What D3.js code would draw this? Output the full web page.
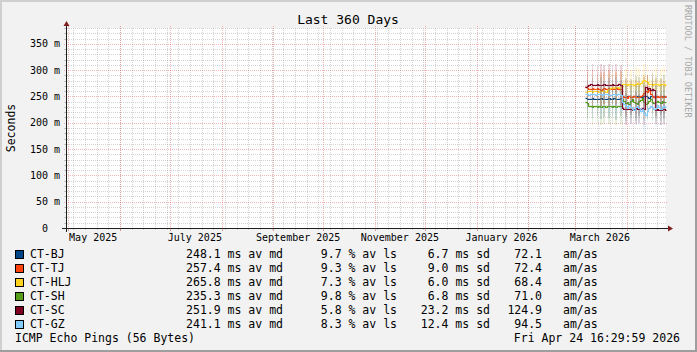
<!DOCTYPE html>
<html>
<head>
<meta charset="utf-8">
<script src="https://cdn.jsdelivr.net/npm/d3@7"></script>
<style>
html, body { margin: 0; padding: 0; background: #f2f2f2; }
svg { display: block; }
text { font-family: "DejaVu Sans Mono", monospace; white-space: pre; }
</style>
</head>
<body>
<div id="chart"></div>
<script>
// hosts and colours
var hosts = ["CT-BJ", "CT-TJ", "CT-HLJ", "CT-SH", "CT-SC", "CT-GZ"];
var colors = ["#004586", "#ff420e", "#ffd320", "#579d1c", "#7e0021", "#83caff"];

// legend numbers
var avMedian = [248.1, 257.4, 265.8, 235.3, 251.9, 241.1];
var avLoss = [9.7, 9.3, 7.3, 9.8, 5.8, 8.3];
var sdMedian = [6.7, 9.0, 6.0, 6.8, 23.2, 12.4];
var amAs = [72.1, 72.4, 68.4, 71.0, 124.9, 94.5];

// daily medians (ms), first value is 2026-03-07
var firstDay = new Date(2026, 2, 7);
var medBJ  = [247,246,245,246,247,246,245,245,246,247,246,245,246,246,247,245,246,247,246,245,246,247,
              250,249,248,250,251,249,248,250,249,251,250,248,249,251,250,249,247,250,251,249,250,251,249,250,248,250,249];
var medTJ  = [268,266,265,264,266,265,264,266,265,263,265,266,264,265,266,265,264,265,266,265,264,265,
              250,248,249,247,250,249,248,250,249,248,249,250,252,256,260,258,262,255,250,249,248,250,249,251,248,249,250];
var medHLJ = [259,260,261,260,259,260,261,260,259,260,261,260,259,262,264,266,267,266,268,267,266,268,
              273,274,273,272,274,273,274,272,273,275,274,276,280,281,279,277,274,273,272,274,273,274,272,273,274,273,272];
var medSH  = [239,237,232,231,230,231,232,230,231,230,232,231,230,231,232,231,230,231,230,231,232,231,
              245,242,238,240,236,242,245,240,238,236,241,244,247,240,236,238,242,245,240,237,239,242,240,238,241,240,239];
var medSC  = [268,270,272,273,272,271,272,273,272,271,272,273,272,272,271,272,273,272,271,272,273,272,
              228,227,226,228,227,226,225,227,228,226,227,226,228,226,268,264,266,262,265,263,225,226,224,225,227,226,225];
var medGZ  = [255,254,253,254,255,254,253,254,255,254,253,254,255,254,253,252,254,255,253,254,255,253,
              240,236,232,228,234,230,226,224,230,232,228,222,226,218,214,222,228,232,230,226,228,234,230,226,229,231,230];

// daily standard deviation (ms)
var sdBJ  = [5,70,5,6,75,5,4,65,5,80,6,70,5,4,75,5,70,6,80,5,4,70,
             5,6,75,5,5,70,6,5,80,5,75,6,5,70,4,80,5,6,70,5,75,6,5,70,5,80,5];
var sdTJ  = [6,60,5,6,70,6,5,55,6,65,6,60,5,6,70,6,55,6,60,5,6,65,
             6,7,70,6,6,60,7,6,65,6,60,7,6,70,6,65,7,6,60,6,70,7,6,65,6,60,6];
var sdHLJ = [5,55,5,5,60,5,5,50,5,60,5,55,5,5,60,5,55,5,60,5,5,55,
             10,15,60,18,20,60,16,22,65,20,60,18,24,60,20,65,22,18,60,20,65,18,22,60,20,65,18];
var sdSH  = [6,65,6,5,70,6,5,60,6,70,5,65,6,5,70,6,65,5,70,6,5,65,
             6,7,70,6,6,65,7,6,70,6,65,7,6,70,6,65,7,6,70,6,65,7,6,70,6,65,6];
var sdSC  = [4,75,4,4,80,4,4,70,4,80,4,75,4,4,80,4,75,4,80,4,4,75,
             5,5,60,5,5,55,5,5,60,5,55,5,5,60,6,55,6,5,60,5,55,5,5,60,5,55,5];
var sdGZ  = [5,60,5,5,65,5,5,55,5,65,5,60,5,5,65,5,60,5,65,5,5,60,
             8,8,70,8,9,65,8,9,70,8,65,9,8,75,9,70,8,9,65,8,70,9,8,65,8,70,8];

var medians = [medBJ, medTJ, medHLJ, medSH, medSC, medGZ];
var sdevs = [sdBJ, sdTJ, sdHLJ, sdSH, sdSC, sdGZ];

// axis ticks
var yTickValues = [0, 0.05, 0.1, 0.15, 0.2, 0.25, 0.3, 0.35];
var yTickLabels = ["0  ", "50 m", "100 m", "150 m", "200 m", "250 m", "300 m", "350 m"];
var monthLabels = ["May 2025", "July 2025", "September 2025", "November 2025", "January 2026", "March 2026"];
var monthLabelDates = [new Date(2025,4,1), new Date(2025,6,1), new Date(2025,8,1), new Date(2025,10,1), new Date(2026,0,1), new Date(2026,2,1)];

var W = 697, H = 352;
var X0 = 66, X1 = 666, Y0 = 228, Y1 = 28;

var endTime = new Date(2026, 3, 24, 16, 29, 59);
var startTime = d3.timeDay.offset(endTime, -360);

var x = d3.scaleTime().domain([startTime, endTime]).range([X0, X1]);
var y = d3.scaleLinear().domain([0, 0.38]).range([Y0, Y1]);

var svg = d3.select("#chart")
  .append("svg")
    .attr("width", W)
    .attr("height", H);

// background + 3d frame
svg.append("rect").attr("width", W).attr("height", H).attr("fill", "#f2f2f2");
svg.append("rect").attr("x", 0).attr("y", 0).attr("width", W).attr("height", 2).attr("fill", "#cfcfcf");
svg.append("rect").attr("x", 0).attr("y", 0).attr("width", 2).attr("height", H).attr("fill", "#cfcfcf");
svg.append("rect").attr("x", 0).attr("y", H - 2).attr("width", W).attr("height", 2).attr("fill", "#9e9e9e");
svg.append("rect").attr("x", W - 2).attr("y", 0).attr("width", 2).attr("height", H).attr("fill", "#9e9e9e");

// canvas
svg.append("rect")
  .attr("x", X0).attr("y", Y1)
  .attr("width", X1 - X0).attr("height", Y0 - Y1)
  .attr("fill", "#ffffff");

var grid = svg.append("g").attr("shape-rendering", "crispEdges");
var minorCol = "rgba(143,143,143,0.38)";
var majorCol = "rgba(222,79,79,0.42)";

// horizontal minor grid, every 10 m
d3.range(1, 39).forEach(function(k) {
  if (k % 5 == 0) return;
  var yy = Math.round(y(k / 1000 * 10)) + 0.5;
  grid.append("line").attr("x1", X0 - 2).attr("x2", X0).attr("y1", yy).attr("y2", yy).attr("stroke", minorCol);
  grid.append("line").attr("x1", X0 - 1).attr("x2", X1 + 1).attr("y1", yy).attr("y2", yy)
    .attr("stroke", minorCol).attr("stroke-dasharray", "1,1");
});

// vertical minor grid, weekly
d3.timeSunday.range(startTime, endTime).forEach(function(t) {
  var xx = Math.round(x(t)) + 0.5;
  grid.append("line").attr("x1", xx).attr("x2", xx).attr("y1", Y0).attr("y2", Y0 + 2).attr("stroke", minorCol);
  grid.append("line").attr("x1", xx).attr("x2", xx).attr("y1", Y0 + 1).attr("y2", Y1 - 1)
    .attr("stroke", minorCol).attr("stroke-dasharray", "1,1");
});

// horizontal major grid
yTickValues.forEach(function(v) {
  if (v == 0) return;
  var yy = Math.round(y(v)) + 0.5;
  grid.append("line").attr("x1", X0 - 2).attr("x2", X1 + 2).attr("y1", yy).attr("y2", yy)
    .attr("stroke", majorCol).attr("stroke-dasharray", "1,1");
});

// vertical major grid, monthly
d3.timeMonth.range(startTime, endTime).forEach(function(t) {
  var xx = Math.round(x(t)) + 0.5;
  grid.append("line").attr("x1", xx).attr("x2", xx).attr("y1", Y0).attr("y2", Y0 + 3).attr("stroke", majorCol);
  grid.append("line").attr("x1", xx).attr("x2", xx).attr("y1", Y0 + 3).attr("y2", Y1 - 2)
    .attr("stroke", majorCol).attr("stroke-dasharray", "1,1");
});

// data
var plot = svg.append("g");

var area = d3.area()
  .curve(d3.curveStepAfter)
  .x(function(d) { return Math.round(x(d.t)); })
  .y0(function(d) { return y((d.m - d.s / 2) / 1000); })
  .y1(function(d) { return y((d.m + d.s / 2) / 1000); });

var line = d3.line()
  .curve(d3.curveStepAfter)
  .x(function(d) { return Math.round(x(d.t)) + 0.5; })
  .y(function(d) { return Math.round(y(d.m / 1000)) + 0.5; });

hosts.forEach(function(h, i) {
  var pts = medians[i].map(function(m, j) {
    return { t: d3.timeDay.offset(firstDay, j), m: m, s: sdevs[i][j] };
  });
  var last = pts[pts.length - 1];
  pts.push({ t: endTime, m: last.m, s: last.s });

  plot.append("path")
    .attr("d", area(pts))
    .attr("fill", colors[i])
    .attr("fill-opacity", 0.16)
    .attr("shape-rendering", "crispEdges");

  plot.append("path")
    .attr("d", line(pts))
    .attr("fill", "none")
    .attr("stroke", colors[i])
    .attr("stroke-width", 1.2);
});

// axes
var axisCol = "#1f1f1f", arrowCol = "#801f1f";
svg.append("line").attr("x1", X0 - 4).attr("x2", X1 + 4).attr("y1", Y0 + 0.5).attr("y2", Y0 + 0.5)
  .attr("stroke", axisCol).attr("shape-rendering", "crispEdges");
svg.append("line").attr("x1", X0 + 0.5).attr("x2", X0 + 0.5).attr("y1", Y0 + 4).attr("y2", Y1 - 4)
  .attr("stroke", axisCol).attr("shape-rendering", "crispEdges");
svg.append("path")
  .attr("d", "M" + (X1 + 2) + "," + (Y0 - 2.5) + "L" + (X1 + 2) + "," + (Y0 + 3.5) + "L" + (X1 + 7) + "," + (Y0 + 0.5) + "Z")
  .attr("fill", arrowCol);
svg.append("path")
  .attr("d", "M" + (X0 - 2.5) + "," + (Y1 - 2) + "L" + (X0 + 3.5) + "," + (Y1 - 2) + "L" + (X0 + 0.5) + "," + (Y1 - 7) + "Z")
  .attr("fill", arrowCol);

// y labels
yTickValues.forEach(function(v, i) {
  svg.append("text")
    .attr("x", 60)
    .attr("y", y(v) + 3.5)
    .attr("font-size", "10px")
    .attr("text-anchor", "end")
    .text(yTickLabels[i]);
});

// x labels, centred half a month after the month start
monthLabelDates.forEach(function(t, i) {
  svg.append("text")
    .attr("x", x(d3.timeDay.offset(t, 15)))
    .attr("y", 241)
    .attr("font-size", "10px")
    .attr("text-anchor", "middle")
    .text(monthLabels[i]);
});

// title
svg.append("text")
  .attr("x", 348)
  .attr("y", 24)
  .attr("font-size", "13px")
  .attr("text-anchor", "middle")
  .text("Last 360 Days");

// unit
svg.append("text")
  .attr("transform", "translate(15," + ((Y0 + Y1) / 2) + ") rotate(-90)")
  .attr("font-size", "11.5px")
  .attr("text-anchor", "middle")
  .text("Seconds");

// watermark
svg.append("text")
  .attr("transform", "translate(685,5) rotate(90)")
  .attr("font-size", "8.5px")
  .attr("fill", "#a8a8a8")
  .text("RRDTOOL / TOBI OETIKER");

// legend
hosts.forEach(function(h, i) {
  var by = 258 + i * 13.9;
  svg.append("rect")
    .attr("x", 15.5).attr("y", Math.round(by - 8) + 0.5)
    .attr("width", 8).attr("height", 8)
    .attr("fill", colors[i])
    .attr("stroke", "#000").attr("stroke-width", 1);
  var lg = svg.append("g").attr("font-size", "11.5px");
  lg.append("text").attr("x", 30).attr("y", by).text(h);
  lg.append("text").attr("x", 283).attr("y", by).attr("text-anchor", "end")
    .text(avMedian[i].toFixed(1) + " ms av md");
  lg.append("text").attr("x", 397).attr("y", by).attr("text-anchor", "end")
    .text(avLoss[i].toFixed(1) + " % av ls");
  lg.append("text").attr("x", 490).attr("y", by).attr("text-anchor", "end")
    .text(sdMedian[i].toFixed(1) + " ms sd");
  lg.append("text").attr("x", 542).attr("y", by).attr("text-anchor", "end")
    .text(amAs[i].toFixed(1));
  lg.append("text").attr("x", 563).attr("y", by).text("am/as");
});

svg.append("text")
  .attr("x", 15).attr("y", 342)
  .attr("font-size", "11.5px")
  .text("ICMP Echo Pings (56 Bytes)");
svg.append("text")
  .attr("x", 680).attr("y", 342)
  .attr("font-size", "11.5px")
  .attr("text-anchor", "end")
  .text("Fri Apr 24 16:29:59 2026");
</script>
</body>
</html>
